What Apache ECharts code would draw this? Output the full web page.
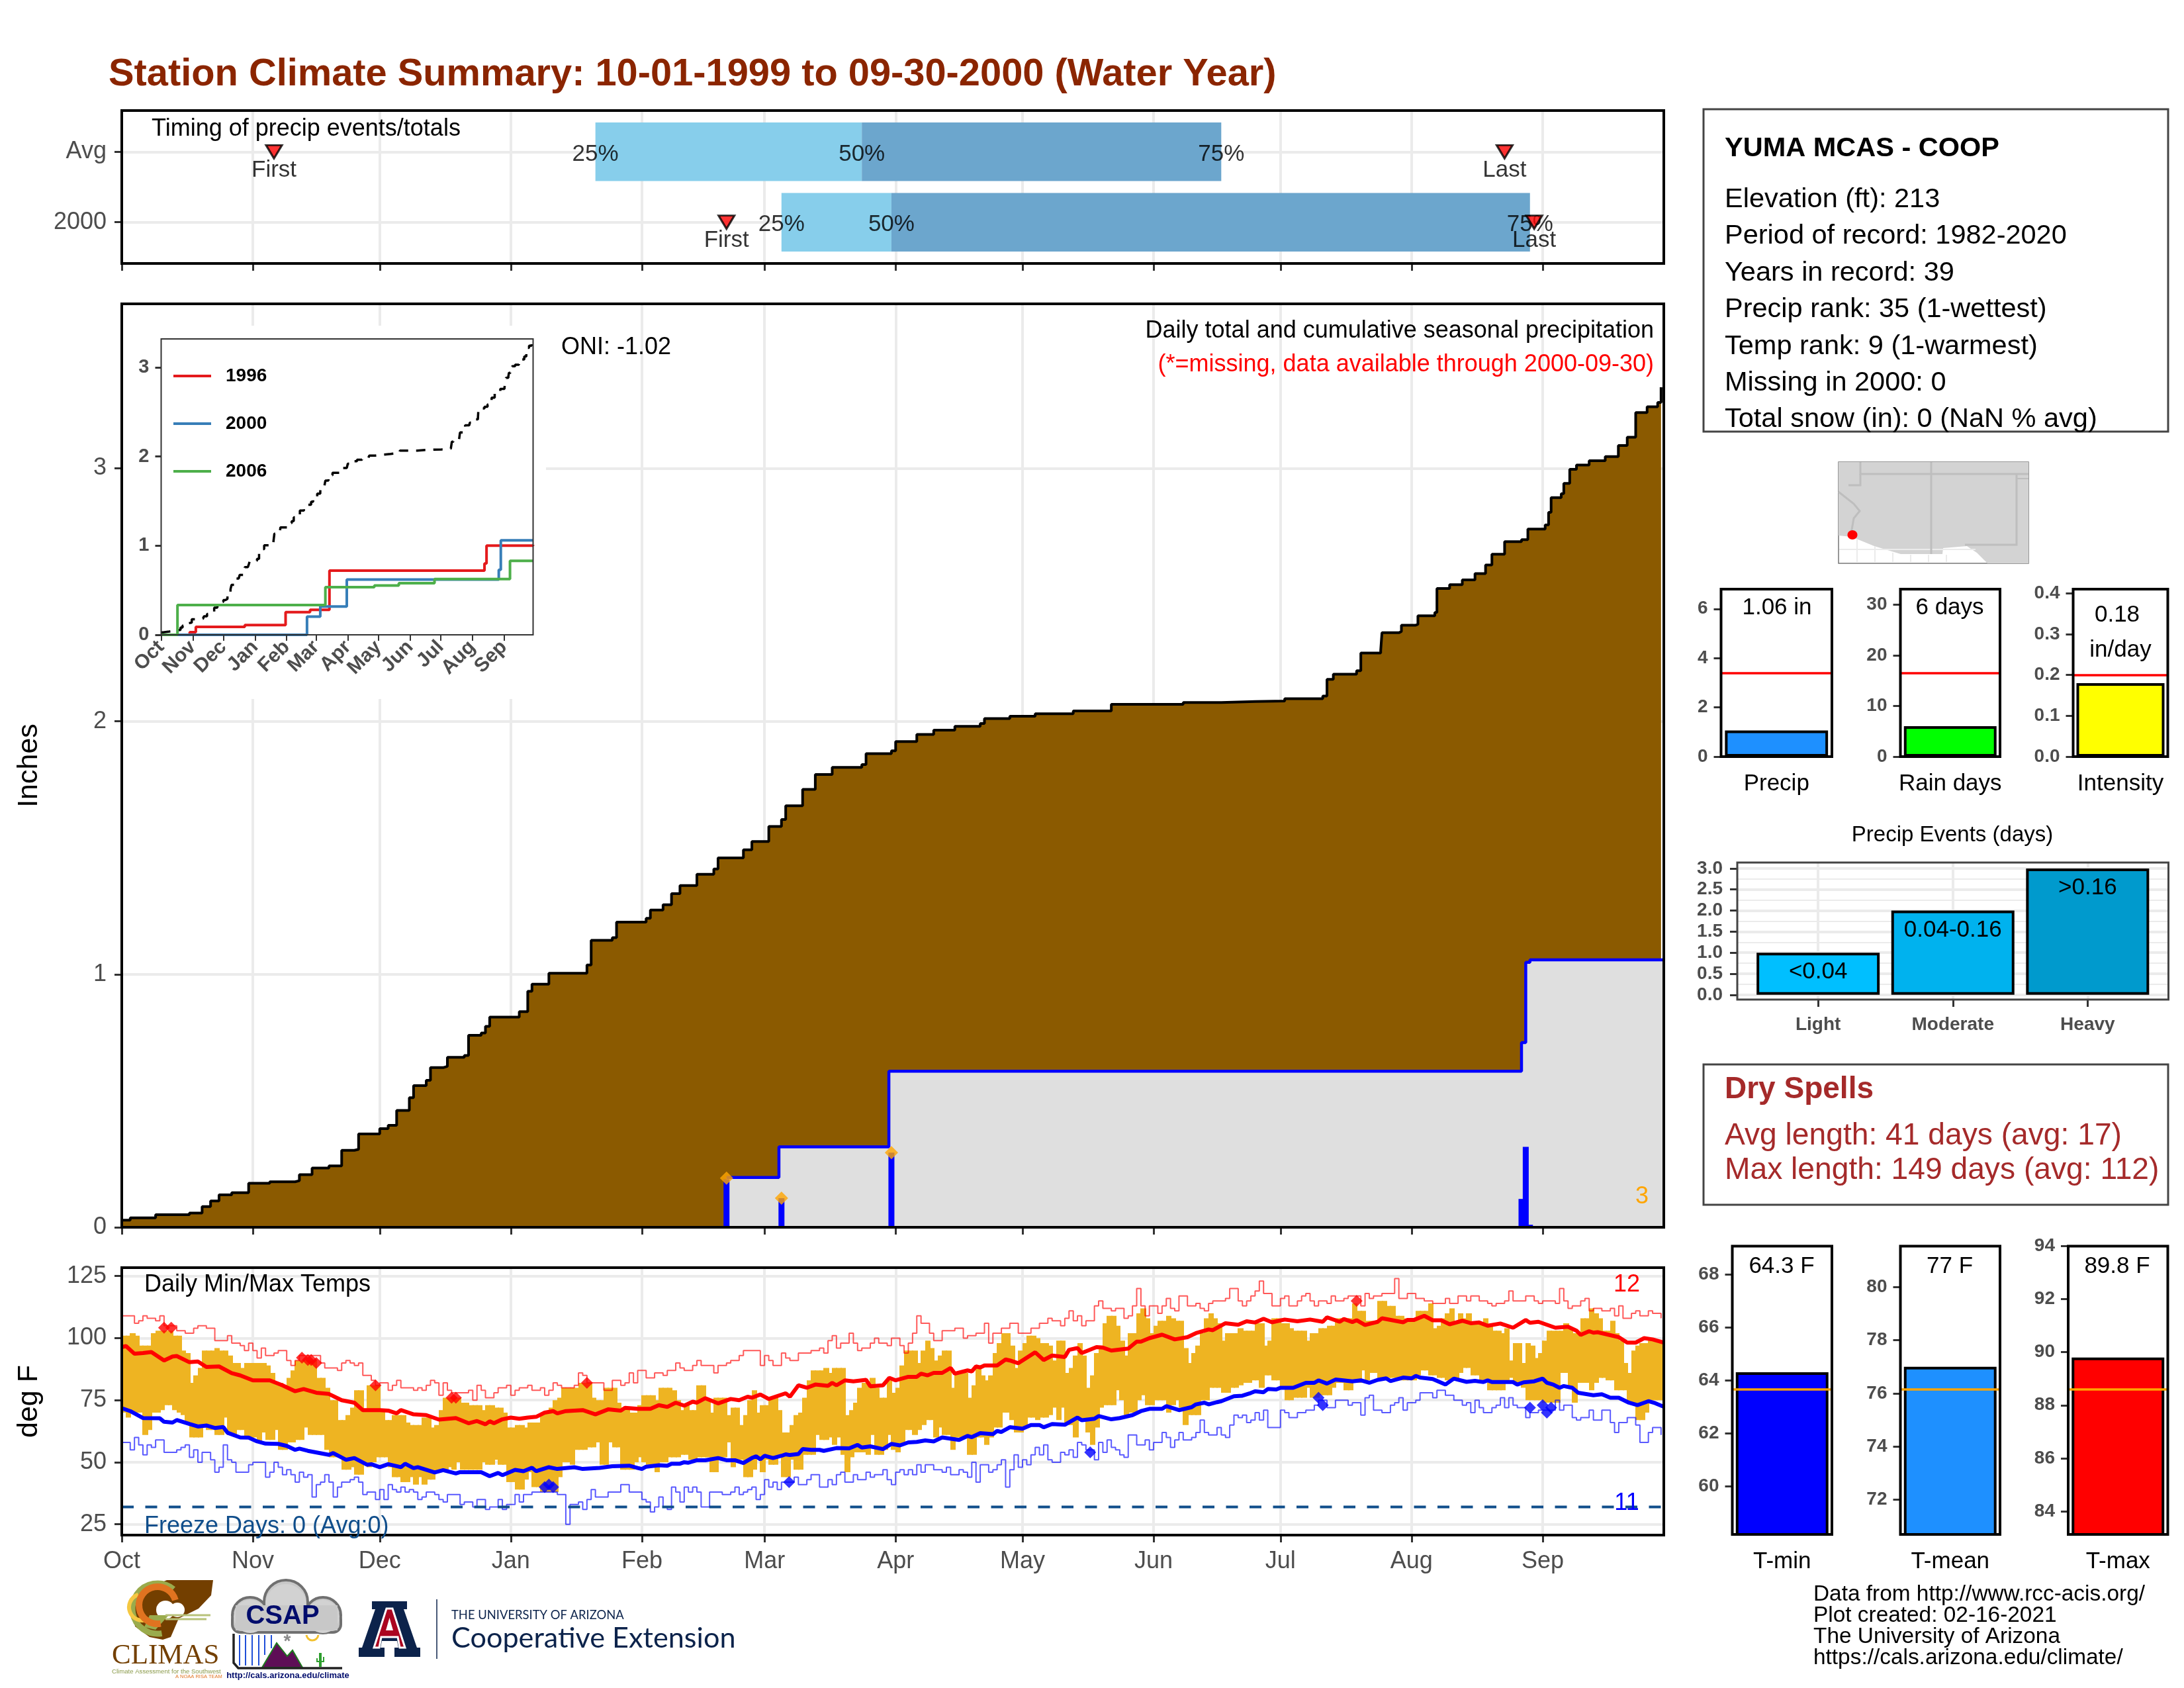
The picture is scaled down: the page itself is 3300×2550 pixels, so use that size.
<!DOCTYPE html>
<html lang="en">
<head>
<meta charset="UTF-8">
<title>Station Climate Summary</title>
<script src="https://cdn.jsdelivr.net/npm/echarts@6/dist/echarts.min.js"></script>
<style>html,body{margin:0;background:#fff}#main{width:3300px;height:2550px}</style>
</head>
<body>
<div id="main"></div>
<script>
// ---- data; day = days since Oct 1 ----
const monthDays = [0,31,61,92,123,152,183,213,244,274,305,336];
const monthNames = ['Oct','Nov','Dec','Jan','Feb','Mar','Apr','May','Jun','Jul','Aug','Sep'];

// timing panel (row 2 = Avg, row 1 = 2000)
const timingRows = [2,1];
const q25 = [112,156];
const q50 = [175,182];
const q75 = [260,333];
const firstDay = [36,143];
const lastDay = [327,334];

// average cumulative precip
const avgDays = [0,2,8,16,19,21,23,26,30,35,41,42,45,49,52,55,56,61,63,65,68,69,72,73,76,77,81,82,85,86,87,94,96,97,101,110,111,116,117,124,125,128,130,132,136,140,141,147,149,153,156,157,160,161,164,168,175,176,182,183,188,192,197,203,204,210,216,225,234,251,260,268,275,284,285,286.5,292,293,297.7,298,302,302.6,306,306.5,310.5,311,314,317,320,322.5,324,327,331,332.5,336.6,337.4,338,340.4,341,342.4,344,347,350.8,353.9,356,358,360.7,363.2,364];
const avgCum = [.028,.037,.05,.056,.082,.104,.128,.137,.174,.18,.184,.208,.234,.243,.304,.308,.369,.39,.403,.462,.512,.56,.581,.631,.636,.672,.679,.759,.768,.794,.831,.852,.933,.961,1.004,1.037,1.134,1.145,1.206,1.221,1.254,1.275,1.319,1.351,1.395,1.416,1.46,1.492,1.525,1.584,1.612,1.666,1.666,1.731,1.79,1.818,1.829,1.872,1.883,1.92,1.948,1.965,1.98,1.991,2.011,2.02,2.03,2.041,2.067,2.074,2.078,2.08,2.089,2.1,2.166,2.186,2.2,2.27,2.28,2.35,2.355,2.38,2.383,2.417,2.43,2.525,2.54,2.559,2.584,2.618,2.66,2.71,2.718,2.76,2.776,2.826,2.884,2.9,2.94,2.996,3.013,3.03,3.046,3.09,3.123,3.22,3.243,3.26,3.32];

// this year cumulative and daily precip
const yearDays = [143,155.4,181.4,331,332,333,364.6];
const yearCum = [.197,.318,.617,.73,1.047,1.057,1.057];
const dailyDays = [143,156,182,331,332,333];
const dailyPrecip = [.19,.115,.295,.112,.318,.01];
const extremeDays = [143,156,182];
const extremeVals = [.194,.115,.295];

// inset: analog years
const y1996Days = [0,28,34,82,122,146,165,317,319,364.6];
const y1996 = [0,.03,.09,.11,.255,.28,.72,.80,1.0,1.01];
const y2000Days = [0,143,156,182,331,333,364.6];
const y2000 = [0,.205,.317,.62,.73,1.06,1.06];
const y2006Days = [0,16,161,209,233,268,342,364.6];
const y2006 = [0,.335,.534,.553,.58,.625,.83,.83];

// daily temps
const dailyHi = [101,101,102,101,97,97,97,102,103,103,
103,103,101,101,95,94,82,85,88,95,
95,95,96,95,95,93,90,90,88,90,
90,90,90,90,89,86,82,82,81,84,
87,91,91,91,91,91,84,84,80,75,
75,67,67,69,72,79,79,71,81,81,
81,71,67,67,69,69,69,66,65,65,
65,68,68,64,65,71,76,76,76,76,
74,74,73,73,73,71,73,73,72,72,
70,64,64,65,65,64,66,66,66,70,
70,72,75,76,80,80,80,80,82,82,
82,76,75,75,80,80,80,74,72,72,
70,70,73,77,77,77,75,80,80,80,
79,75,71,73,71,71,81,81,75,70,
76,76,76,69,72,72,65,69,75,79,
70,73,73,76,76,71,62,62,65,69,
70,76,83,87,87,87,88,86,88,88,
88,69,71,74,80,82,82,84,80,76,
76,83,78,80,89,95,95,95,90,95,
99,96,91,93,95,95,80,86,86,86,
76,81,89,85,83,85,94,98,102,102,
97,88,95,98,101,101,100,98,98,97,
91,99,99,86,88,93,98,93,80,85,
94,97,106,109,109,105,99,93,102,102,
110,112,108,102,105,107,107,109,108,107,
107,96,90,94,97,102,108,110,108,106,
99,102,102,102,104,103,103,103,106,106,
97,99,108,108,106,106,104,103,103,103,
99,102,102,104,104,105,105,108,108,108,
108,114,111,111,107,107,107,115,115,113,
113,109,109,108,108,108,111,111,111,114,
104,105,108,110,112,107,110,108,110,106,
106,106,108,105,103,103,102,104,91,98,
98,90,98,97,92,94,99,103,103,103,
103,106,104,102,102,108,108,112,110,108,
103,103,107,102,99,90,86,95,97,98,
98,99,99,98,98];
const dailyLo = [70,68,70,70,70,61,63,70,70,71,
73,73,71,70,69,66,60,60,60,64,
63,63,61,61,68,61,61,63,63,60,
60,60,58,62,59,59,63,55,55,58,
58,59,59,64,61,61,61,61,55,52,
52,52,47,47,48,45,45,49,48,50,
52,52,52,48,44,44,42,42,44,41,
44,41,43,43,46,46,46,48,47,50,
47,47,47,47,47,50,49,49,51,49,
49,42,42,39,39,43,46,40,40,38,
38,38,38,44,50,50,49,55,55,55,
56,56,58,49,49,58,56,56,47,47,
47,50,52,50,49,49,46,50,50,52,
52,52,53,53,51,51,52,52,52,46,
46,52,52,58,48,51,51,44,44,47,
51,46,51,49,49,52,44,44,51,47,
47,53,53,53,61,59,59,60,57,60,
53,46,52,54,54,54,53,61,53,53,
55,61,55,54,57,63,63,61,63,65,
67,67,60,64,61,61,55,60,60,60,
53,53,60,60,57,60,64,64,70,70,
67,62,62,64,68,68,67,68,68,69,
72,67,72,65,65,60,67,67,62,57,
64,72,73,73,73,79,75,69,70,70,
75,77,73,73,75,75,75,70,73,75,
72,65,69,69,69,75,75,80,80,80,
78,78,80,80,81,82,82,83,83,80,
85,85,83,83,80,75,75,76,76,76,
80,76,76,77,77,77,80,82,82,79,
79,82,82,87,83,86,86,84,84,84,
84,84,83,83,83,83,85,87,87,85,
85,84,84,83,83,83,86,88,88,85,
85,83,83,79,79,79,79,82,84,82,
82,80,75,75,75,75,74,74,74,74,
86,86,80,74,82,82,82,79,82,84,
84,83,83,79,79,79,74,74,67,67,
70,75,75,75,75];

// mean max/min lines
const avgHiDays = [0,1,3,5,7,10,12,13,16,18,20,23,26,28,31,35,38,41,43,46,49,52,55,57,61,63,65,66,69,72,75,79,82,84,86,87,88,90,92,94,96,98,100,102,103,105,109,112,115,118,119,122,125,127,129,131,133,135,136,138,141,144,146,148,149,151,153,157,158,160,162,164,167,168,169,171,173,176,177,180,181.5,183,186,188,189,190.5,192,194,196,197,200,201,202,203,204,207,209,210,212,216,218,220,223,224,226,227,230.5,232,234,238,240,241,243,246,249,252,254,257,258,261,264,266,268,270,272,275,278,281,284,285,288,289,291,292,294,297,298,303,304,305.5,308,310,312,314,317,319,321,323,326,329,332,333,335,337,339,342,344,345,347,348,349,354,356,358,360,362,364.6];
const avgHi = [96.4,96.8,93.7,94,94.4,91,92.6,92.8,90.3,90.6,88.4,88.6,85.9,85,83,83,81,78.6,79.5,78,77.5,75,74,71,71,70.8,69.7,71,69.3,69,67.2,67.8,65.7,66.6,65.3,66.5,65.7,67.3,68,67.5,68,68.3,70,70.6,69.7,70.6,71,69.3,71.3,70.8,71.9,71.5,71.5,73,72.3,74,72.8,74.4,74,75.8,73.7,75.5,75,76.4,76,77.3,75.5,77.8,76.4,81,80,81.3,80.8,82,81,83,82.6,83.2,80.6,81,84,83,84.4,84.4,85.7,85,86,86,88,85.7,87,86.6,88.6,88.2,89,89,91.4,91,89.9,94.3,91.2,93,92.4,95.3,96,94,96.4,96.2,95,95.8,98.6,98.6,100,101.4,99.5,100.4,102,103.5,103.2,106,105.4,106.8,106.3,107.8,106.4,107.5,106.8,107.5,106.6,108.4,106.6,107.7,106.5,107.2,105.3,106.6,108,106.4,107.3,107.3,109,107.2,107.2,105.6,107,106,106.3,105,105.9,104.2,107.3,106.2,106.6,105.4,104.2,104.6,103,101.3,102.8,102.2,102.4,100.4,98.2,98.2,100,99.5,98.2];
const avgLoDays = [0,2,5,9,10,12,13,16,18,20,22,24,25,28,30,32,34,37,39,41,42,44,49,50,53,55,58,59,61,63,66,67,69,70,74,76,79,80,85,87,89,90,93,95,97,98,101,103,107,109,113,116,120,122,123,124,127,129,130,132,133,134,136,138,141,143,145,147,149,150,151,152,154,156,157,158,160,161,163,165,166,169,172,174,175,177,180,182,184,186,188,190,192,194,198,200,201,203,206,207,208,210,213,215,217,218,220,223,226,227,230,231,234,236,238,239,241,243,246,247,250,253,254,256,257,259,260,263,265,267,268,270,271,273,274,277,280,282,283,285,287,291,293,295,297,299,300,303,305,306,307,310,313,315,318,320,322,323,324,329,330,331.5,334,336,337,338.5,340,341,343,344.4,348,350,352,354,356.4,358.4,361,362.6,364.6];
const avgLo = [71.8,70.6,67.8,67.7,66.3,66,67,65.4,64.4,64.8,63.8,64.2,61.9,60,59.9,58.4,57.5,57.4,56.6,55,55.5,54.6,53,53.7,51,51.7,49,49.2,48,49.2,48,49.4,47.6,48,45.9,46.8,45.5,46,46,44.4,45.7,44.8,46.9,46.4,47.8,46.4,48,47.3,48,47.3,47.7,48.4,48.6,47.7,47.3,48.2,48.8,48.6,49.4,49.4,50,49.8,50.8,50.8,51.7,50.8,50.8,49.7,51.7,52.4,51.2,52.6,51.7,52.6,53.2,52.9,53.3,55.3,55,55,54.6,55.7,55.6,57,55.9,56.4,55.3,57.4,56.8,58,58.2,58.8,58.4,60,59,60.6,60.1,61.7,61.3,62.6,62.2,64.1,63.5,65,65,64.1,65.4,65.1,68,66.9,67.5,68.6,67.3,67.8,68.6,69,70.6,71.5,71.5,72.6,71,72.2,73.3,74,73.3,74.2,74.6,76.6,76.8,77.9,78.6,78.2,79.5,79.3,80,80,82,82,83,81.7,83.3,82.6,83,82,83.2,83.8,82.7,84.1,83.8,84.8,84.1,83.5,81.3,83.7,82.4,82.8,82.3,83,82.3,82.3,81.3,82.2,82.6,83.7,82,81.3,80,80.7,80,78,77,77.4,76,76,74,73,74.6,73.8,72.4];

// record high/low step traces, [day] and [deg F] pairs
const recHiDays = [0,3,4,5,6,8,9,10,13,15,17,18,20,22,25,26,28,29,30,31,32,33,34,36,37,39,40,41,42,47,48,51,52,53,54,55,56,57,59,60,61,63,64,65,66,68,69,70,71,72,73,74,75,76,77,78,81,82,83,84,85,86,88,89,91,92,93,94,96,97,99,100,101,102,103,104,107,108,109,110,114,116,118,119,120,121,122,124,126,128,129,131,132,133,135,136,137,140,141,143,144,146,147,151,152,153,154,156,157,158,160,163,165,166,167,168,169,170,172,173,174,175,177,178,179,181,182,184,185,186,187,188,189,191,192,194,197,199,200,202,204,205,206,208,210,212,215,217,219,220,222,223,224,225,226,227,228,230,231,232,234,235,237,238,239,240,241,242,243,245,246,247,248,249,250,252,254,255,256,257,258,261,262,264,265,266,267,268,269,270,272,274,275,276,278,279,280,281,282,283,285,286,287,289,290,293,294,295,296,298,301,302,304,306,308,310,313,314,316,318,319,321,323,324,325,327,328,329,332,334,335,336,339,340,341,342,343,345,346,347,348,350,352,353,354,355,357,358,359,361,362,364];
const recHi = [109,106,107,109,108,107,109,105,103,102,104,105,104,99,101,98,97,95,98,95,92,96,93,94,95,91,89,91,93,90,88,87,90,91,90,89,90,85,83,81,82,79,81,83,80,80,79,80,79,81,83,82,77,82,79,78,78,79,75,81,79,76,78,80,81,77,79,80,81,79,80,77,79,82,81,80,81,86,85,82,79,83,81,82,86,82,87,84,86,85,87,90,88,87,89,91,89,86,89,90,91,93,95,89,93,91,89,94,92,91,94,95,96,94,99,101,96,98,102,98,95,96,98,100,98,97,100,97,94,98,102,109,106,102,99,103,104,100,101,102,106,98,102,104,106,102,104,106,108,107,105,108,111,107,109,105,107,113,115,112,111,112,108,109,113,120,113,109,113,110,113,116,112,111,117,113,114,112,111,114,115,116,120,115,113,115,117,119,123,118,113,116,117,113,115,117,118,115,113,115,114,117,115,116,117,113,118,116,117,118,124,116,118,116,115,114,116,114,117,115,117,115,114,113,114,115,119,115,117,115,114,115,114,120,115,112,113,115,116,111,112,111,112,109,113,108,110,111,109,111,110,108];
const recLoDays = [0,2,3,4,5,6,7,8,10,13,14,15,16,17,18,19,21,22,23,24,25,26,27,30,31,34,35,36,37,38,39,40,41,42,43,44,45,46,47,48,49,50,51,52,54,55,56,57,58,60,61,62,63,64,65,66,67,68,69,70,71,72,74,75,76,77,80,81,83,84,86,87,89,90,91,93,94,95,97,103,105,106,108,109,110,111,112,115,118,120,122,123,124,125,126,127,128,129,130,131,132,133,134,135,136,137,139,142,144,145,146,147,148,149,150,151,152,153,154,155,156,159,160,162,163,165,167,168,169,170,171,173,174,176,177,178,180,181,182,183,184,185,186,187,188,189,190,192,194,195,196,198,199,200,201,202,203,205,206,207,208,209,210,211,212,213,214,215,216,217,218,219,220,222,223,224,225,226,227,228,230,231,232,233,234,235,236,237,238,240,242,243,244,246,247,248,249,250,251,253,254,255,256,257,259,260,261,262,263,264,265,266,267,268,269,270,271,274,275,276,278,280,282,283,285,287,288,290,291,292,293,294,295,296,298,300,301,302,303,304,306,307,310,311,313,315,317,318,319,320,321,322,324,325,326,327,328,329,330,332,333,335,337,339,340,341,343,344,345,347,348,350,352,353,354,356,358,359,361,362,364];
const recLo = [58,55,60,57,53,57,56,59,54,55,56,57,52,55,50,54,51,46,48,57,51,50,46,49,50,44,46,50,48,45,47,45,42,46,44,45,36,41,42,45,42,36,40,42,43,44,42,37,38,35,39,35,41,39,38,40,38,39,38,35,36,38,37,35,34,37,33,34,32,35,31,32,35,31,33,37,34,37,38,37,25,33,34,31,35,39,36,38,41,38,38,35,34,30,32,36,32,31,40,38,34,40,38,40,38,32,38,37,38,40,37,38,39,40,35,37,43,40,42,39,42,44,41,43,45,40,43,41,45,46,42,45,43,46,44,45,47,43,41,46,47,45,47,45,49,46,49,47,46,48,45,47,46,44,50,42,49,46,47,49,51,40,47,53,48,51,49,53,56,53,57,51,50,54,53,55,52,58,57,55,51,58,54,59,56,55,53,52,61,57,59,55,58,62,60,56,59,62,59,60,62,67,62,61,64,61,60,65,69,68,69,66,67,70,67,71,64,71,70,68,70,71,73,75,72,75,75,73,74,74,69,76,77,71,70,73,74,76,71,74,75,78,76,79,77,75,73,74,70,75,72,70,72,73,76,72,76,73,72,68,70,71,71,75,71,73,68,67,68,71,67,71,66,62,66,68,65,58,62,64,61,55,61,59,62];
const freezeTemp = 32;
const recordHiPts = [[10,104.2],[11.7,104.2],[42.6,92.1],[44,91.2],[44.8,91.2],[46,90],[60,81],[78,76],[79,76],[110,82],[292,115]];
const recordLoPts = [[100,40],[101,41],[102,40],[157.8,42],[229,54],[283,76],[284,73],[333,72],[336,73],[337,70],[338,72]];

// small bar panels: value, average
const precipVal = 1.06, precipAvg = 3.4;
const rainVal = 6, rainAvg = 16.5;
const intensityVal = .18, intensityAvg = .205;
const eventLabels = ['<0.04','0.04-0.16','>0.16'];
const eventCats = ['Light','Moderate','Heavy'];
const eventVals = [1,2,3];
const eventColors = ['#00BFFF','#00B2EE','#009ACD'];
const tminVal = 64.3, tminAvg = 63.65;
const tmeanVal = 77, tmeanAvg = 76.14;
const tmaxVal = 89.8, tmaxAvg = 88.6;

// ---- helpers ----
const FONT = '"Liberation Sans"';
const XMAX = 364.65;
const zip = (a, b) => a.map((v, i) => [v, b[i]]);
const TICKCOL = '#333', LABCOL = '#4D4D4D', GRIDCOL = '#EBEBEB';

function gridBox(l, t, r, b, bw, bc) {
    return {left: l, top: t, width: r - l, height: b - t, show: true, z: 20, outerBoundsMode: 'none',
        backgroundColor: 'transparent', borderColor: bc || '#000', borderWidth: bw || 4};
}
function timeAxis(g, showLabels) {
    return {type: 'value', gridIndex: g, min: 0, max: XMAX, position: 'bottom',
        axisLine: {show: false, onZero: false},
        axisTick: {show: true, length: 11, customValues: monthDays, lineStyle: {color: TICKCOL, width: 3}},
        axisLabel: {show: showLabels, customValues: monthDays, fontSize: 36, color: LABCOL, margin: 22,
            hideOverlap: false, formatter: v => monthNames[monthDays.indexOf(v)]},
        splitLine: {show: true, lineStyle: {color: GRIDCOL, width: 4}}};
}
function yAxis(g, min, max, ticks, o) {
    o = o || {};
    return Object.assign({type: 'value', gridIndex: g, min, max, position: 'left',
        axisLine: {show: false, onZero: false},
        axisTick: {show: true, length: o.tick || 11, customValues: ticks, lineStyle: {color: TICKCOL, width: 3}},
        axisLabel: {customValues: ticks, fontSize: o.size || 36, color: LABCOL, fontWeight: o.weight || 'normal',
            margin: o.margin || 23, padding: [10, 0, 0, 0], formatter: o.fmt || (v => String(v))},
        splitLine: {show: !!o.grid, lineStyle: {color: GRIDCOL, width: 4}}}, o.extra || {});
}
// single-bar panel with an average line
function barPanel(g, name, val, avg, color, lineColor) {
    return {type: 'bar', xAxisIndex: g, yAxisIndex: g, data: [{name, value: val}], barWidth: '93%', z: 2,
        itemStyle: {color, borderColor: '#000', borderWidth: 4},
        markLine: {silent: true, symbol: 'none', label: {show: false}, animation: false,
            lineStyle: {color: lineColor, width: 3.5, type: 'solid'}, data: [{yAxis: avg}]}};
}
function barX(g, name) {
    return {type: 'category', gridIndex: g, data: [name], axisLine: {show: false, onZero: false}, axisTick: {show: false},
        axisLabel: {fontSize: 35, color: '#000', margin: 24}, splitLine: {show: false}};
}
function T(s, x, y, o) {
    return {type: 'text', z: 30, style: Object.assign({text: s, x, y: y + 3, fontSize: 36, fontFamily: FONT, fill: '#000',
        align: 'left', verticalAlign: 'middle'}, o || {})};
}
function box(x0, y0, x1, y1) {
    return {type: 'rect', z: 25, shape: {x: x0, y: y0, width: x1 - x0, height: y1 - y0},
        style: {fill: 'none', stroke: '#444', lineWidth: 3}};
}
function poly(points, fill, o) {
    return {type: 'polygon', z: 30, shape: {points}, style: Object.assign({fill}, o || {})};
}
function pline(points, stroke, lineWidth) {
    return {type: 'polyline', z: 31, shape: {points}, style: {stroke, lineWidth, fill: 'none'}};
}
function circ(cx, cy, r, fill, o) {
    return {type: 'circle', z: 30, shape: {cx, cy, r}, style: Object.assign({fill}, o || {})};
}

// timing bars
function timingBars(from, to, color) {
    return {type: 'custom', xAxisIndex: 0, yAxisIndex: 0, z: 2,
        data: timingRows.map((r, i) => [from[i], to[i], r]),
        encode: {x: [0, 1], y: 2},
        renderItem: (params, api) => {
            const a = api.coord([api.value(0), api.value(2)]);
            const b = api.coord([api.value(1), api.value(2)]);
            const h = api.size([0, .83])[1];
            return {type: 'rect', shape: {x: a[0], y: a[1] - h / 2, width: b[0] - a[0], height: h}, style: {fill: color}};
        }};
}
function timingText(days, text, dy) {
    return {type: 'scatter', xAxisIndex: 0, yAxisIndex: 0, z: 5, symbolSize: 1,
        itemStyle: {color: 'transparent'}, data: timingRows.map((r, i) => [days[i], r]),
        label: {show: true, position: 'inside', offset: [0, dy], formatter: text, fontSize: 35, color: '#000'}};
}
function timingMark(days) {
    return {type: 'scatter', xAxisIndex: 0, yAxisIndex: 0, z: 6, symbol: 'triangle', symbolRotate: 180, symbolSize: [24, 20],
        itemStyle: {color: '#f00', borderColor: '#000', borderWidth: 3}, data: timingRows.map((r, i) => [days[i], r])};
}

// ---- graphics: boxes, text, map, logos ----
const graphics = [
    {type: 'rect', z: 1, shape: {x: 186, y: 492, width: 639, height: 564}, style: {fill: '#fff'}},
    T('Station Climate Summary: 10-01-1999 to 09-30-2000 (Water Year)', 164, 110, {fontSize: 57.8, fontWeight: 'bold', fill: '#8B2500'}),
    T('Timing of precip events/totals', 229, 192),
    T('ONI: -1.02', 848, 522),
    T('Daily total and cumulative seasonal precipitation', 2499, 497, {align: 'right'}),
    T('(*=missing, data available through 2000-09-30)', 2499, 548, {align: 'right', fill: '#f00'}),
    T('3', 2481, 1805, {align: 'center', fill: '#FFA500'}),
    T('Daily Min/Max Temps', 218, 1938),
    T('12', 2458, 1938, {align: 'center', fill: '#f00'}),
    T('11', 2458, 2268, {align: 'center', fill: '#00f'}),
    T('Freeze Days: 0 (Avg:0)', 218, 2303, {fill: '#104E8B'}),
    // station box
    box(2574, 165, 3276, 652),
    T('YUMA MCAS - COOP', 2606, 222, {fontSize: 41.5, fontWeight: 'bold'}),
    T('Elevation (ft): 213', 2606, 299, {fontSize: 41.5}),
    T('Period of record: 1982-2020', 2606, 354, {fontSize: 41.5}),
    T('Years in record: 39', 2606, 410, {fontSize: 41.5}),
    T('Precip rank: 35 (1-wettest)', 2606, 465, {fontSize: 41.5}),
    T('Temp rank: 9 (1-warmest)', 2606, 521, {fontSize: 41.5}),
    T('Missing in 2000: 0', 2606, 576, {fontSize: 41.5}),
    T('Total snow (in): 0 (NaN % avg)', 2606, 631, {fontSize: 41.5}),
    // locator map
    {type: 'rect', z: 29, shape: {x: 2778, y: 698, width: 287, height: 153}, style: {fill: '#fff', stroke: '#777', lineWidth: 1.5}},
    pline([[2806, 815], [2806, 849]], '#EBEBEB', 2), pline([[2833, 825], [2833, 849]], '#EBEBEB', 2),
    pline([[2860, 835], [2860, 849]], '#EBEBEB', 2), pline([[2887, 838], [2887, 849]], '#EBEBEB', 2),
    pline([[2914, 838], [2914, 849]], '#EBEBEB', 2), pline([[2941, 838], [2941, 849]], '#EBEBEB', 2),
    pline([[2779, 830], [2985, 830]], '#EBEBEB', 2),
    poly([[2778, 698], [3065, 698], [3065, 851], [3003, 851], [2987, 835], [2972, 825], [2936, 828], [2935, 837], [2872, 837], [2832, 825], [2798, 811], [2778, 809]], '#D3D3D3'),
    pline([[2778, 743], [2801, 761], [2810, 772], [2801, 783], [2798, 800], [2796, 811]], '#BEBEBE', 3),
    pline([[2811, 698], [2811, 716], [3065, 716]], '#BEBEBE', 3),
    pline([[2811, 716], [2811, 733], [2793, 733]], '#BEBEBE', 3),
    pline([[2918, 698], [2918, 837]], '#BEBEBE', 3),
    pline([[3047, 716], [3047, 823], [2969, 823]], '#BEBEBE', 3),
    pline([[3047, 723], [3065, 723]], '#BEBEBE', 2),
    {type: 'ellipse', z: 32, shape: {cx: 2799, cy: 808, rx: 7.5, ry: 7}, style: {fill: '#f00'}},
    // small panel values
    T('1.06 in', 2685, 915, {align: 'center', fontSize: 35}),
    T('6 days', 2946, 915, {align: 'center', fontSize: 35}),
    T('0.18', 3199, 926, {align: 'center', fontSize: 35}),
    T('in/day', 3204, 979, {align: 'center', fontSize: 35}),
    T('Precip Events (days)', 2950, 1259, {align: 'center', fontSize: 33}),
    // dry spells box
    box(2574, 1608, 3276, 1820),
    T('Dry Spells', 2606, 1643, {fontSize: 46, fontWeight: 'bold', fill: '#A52A2A'}),
    T('Avg length: 41 days (avg: 17)', 2606, 1713, {fontSize: 46.2, fill: '#A52A2A'}),
    T('Max length: 149 days (avg: 112)', 2606, 1765, {fontSize: 46.2, fill: '#A52A2A'}),
    T('64.3 F', 2692, 1910, {align: 'center', fontSize: 35}),
    T('77 F', 2946, 1910, {align: 'center', fontSize: 35}),
    T('89.8 F', 3199, 1910, {align: 'center', fontSize: 35}),
    // footer
    T('Data from http://www.rcc-acis.org/', 2740, 2406, {fontSize: 33.4}),
    T('Plot created: 02-16-2021', 2740, 2438, {fontSize: 33.4}),
    T('The University of Arizona', 2740, 2470, {fontSize: 33.4}),
    T('https://cals.arizona.edu/climate/', 2740, 2502, {fontSize: 33.4}),

    // CLIMAS logo
    poly([[252, 2387], [322, 2387], [319, 2410], [300, 2430], [270, 2445], [258, 2473], [246, 2477], [226, 2473], [204, 2457], [201, 2430], [214, 2403]], '#733F00'),
    {type: 'arc', z: 31, shape: {cx: 238, cy: 2430, r: 38, startAngle: 1.4, endAngle: 5.4}, style: {stroke: '#9AAB4C', lineWidth: 9, fill: 'none'}},
    {type: 'arc', z: 32, shape: {cx: 238, cy: 2425, r: 28, startAngle: 1.4, endAngle: 6.0}, style: {stroke: '#E07320', lineWidth: 10, fill: 'none'}},
    {type: 'arc', z: 31, shape: {cx: 215, cy: 2428, r: 20, startAngle: 1.2, endAngle: 4.4}, style: {stroke: '#F5C842', lineWidth: 6, fill: 'none'}},
    circ(250, 2432, 14, '#fff'), circ(268, 2432, 11, '#fff'),
    poly([[226, 2440], [255, 2440], [235, 2462], [218, 2458]], '#9AAB4C'),
    pline([[250, 2440], [318, 2440]], '#B8C27A', 3), pline([[250, 2446], [312, 2446]], '#B8C27A', 3),
    T('CLIMAS', 169, 2499, {fontSize: 43, fontFamily: '"Liberation Serif"', fill: '#733F00'}),
    T('Climate Assessment for the Southwest', 169, 2522, {fontSize: 9.6, fill: '#8A9A4A'}),
    T('A NOAA RISA TEAM', 265, 2530, {fontSize: 7.5, fill: '#E07320'}),

    // CSAP logo
    circ(432, 2420, 33, '#C8C8C8', {stroke: '#707070', lineWidth: 4}),
    circ(378, 2440, 27, '#C8C8C8', {stroke: '#707070', lineWidth: 4}),
    circ(488, 2440, 27, '#C8C8C8', {stroke: '#707070', lineWidth: 4}),
    {type: 'rect', z: 30, shape: {x: 351, y: 2435, width: 164, height: 31, r: 12}, style: {fill: '#C8C8C8', stroke: '#707070', lineWidth: 4}},
    circ(432, 2424, 31, '#D2D2D2'), circ(378, 2442, 25, '#D2D2D2'), circ(488, 2442, 25, '#D2D2D2'),
    {type: 'rect', z: 30, shape: {x: 356, y: 2425, width: 154, height: 38}, style: {fill: '#C8C8C8'}},
    T('CSAP', 427, 2439, {align: 'center', fontSize: 40, fontWeight: 'bold', fill: '#000C6C'}),
    pline([[362, 2470], [362, 2516]], '#1F4FD8', 2), pline([[371, 2470], [371, 2516]], '#1F4FD8', 2),
    pline([[381, 2470], [381, 2516]], '#1F4FD8', 2), pline([[391, 2470], [391, 2516]], '#1F4FD8', 2),
    pline([[400, 2470], [400, 2500]], '#1F4FD8', 2), pline([[410, 2470], [410, 2490]], '#1F4FD8', 2),
    pline([[353, 2468], [353, 2512], [360, 2520], [517, 2520]], '#222', 3.5),
    poly([[396, 2519], [418, 2482], [434, 2502], [442, 2493], [457, 2519]], '#5E0E56', {stroke: '#1E7A1E', lineWidth: 2}),
    T('*', 434, 2477, {align: 'center', fontSize: 28, fill: '#888', fontWeight: 'bold'}),
    {type: 'arc', z: 31, shape: {cx: 472, cy: 2469, r: 9, startAngle: 0.1, endAngle: 3.05}, style: {stroke: '#F2C12E', lineWidth: 3, fill: 'none'}},
    pline([[484, 2497], [484, 2518]], '#2E9E2E', 4), pline([[479, 2505], [479, 2510], [489, 2510], [489, 2503]], '#2E9E2E', 2),
    T('http://cals.arizona.edu/climate', 435, 2528, {align: 'center', fontSize: 13, fontWeight: 'bold', fill: '#000C6C'}),

    // University of Arizona logo
    poly([[562, 2419], [615, 2419], [615, 2431], [610, 2431], [630, 2489], [635, 2489], [635, 2503], [596, 2503], [596, 2489], [602, 2489], [600, 2479], [577, 2479], [575, 2489], [581, 2489], [581, 2503], [542, 2503], [542, 2489], [547, 2489], [567, 2431], [562, 2431]], '#0C234B'),
    poly([[584, 2430], [593, 2430], [612, 2489], [604, 2489], [601, 2473], [576, 2473], [573, 2489], [565, 2489]], '#AB0520', {stroke: '#fff', lineWidth: 3}),
    poly([[588.5, 2444], [594, 2463], [583, 2463]], '#fff'),
    pline([[660, 2416], [660, 2506]], '#0C234B', 1.5),
    T('THE UNIVERSITY OF ARIZONA', 682, 2437, {fontSize: 18.4, fontFamily: 'Lato', fill: '#0C234B'}),
    T('Cooperative Extension', 682, 2472, {fontSize: 43.2, fontFamily: 'Lato', fill: '#0C234B'})
];

// ---- chart ----
const option = {
    animation: false,
    backgroundColor: '#fff',
    textStyle: {fontFamily: FONT},
    graphic: {elements: graphics},
    legend: {data: ['1996', '2000', '2006'], orient: 'vertical', left: 257, top: 549, icon: 'rect', itemWidth: 57, itemHeight: 4, itemGap: 44,
        selectedMode: false, z: 25,
        textStyle: {fontSize: 28, fontWeight: 'bold', color: '#000', padding: [0, 0, 0, 17]}},
    grid: [
        gridBox(184, 167, 2514, 398),
        gridBox(184, 459, 2514, 1854),
        gridBox(243.5, 512, 805.5, 959, 2, '#333'),
        gridBox(184, 1915, 2514, 2319),
        gridBox(2600.5, 890, 2768, 1143),
        gridBox(2871.5, 890, 3022, 1143),
        gridBox(3132.5, 890, 3275.5, 1143),
        gridBox(2625, 1303, 3276.5, 1510, 3, '#444'),
        gridBox(2617.5, 1882.5, 2768, 2318),
        gridBox(2871.5, 1882.5, 3022, 2318),
        gridBox(3125, 1882.5, 3275.5, 2318)
    ],
    xAxis: [
        timeAxis(0, false),
        timeAxis(1, false),
        {type: 'value', gridIndex: 2, z: 10, min: 0, max: XMAX, position: 'bottom', axisLine: {show: false, onZero: false},
            axisTick: {length: 9, customValues: monthDays, lineStyle: {color: TICKCOL, width: 2}},
            axisLabel: {customValues: monthDays, rotate: 45, fontSize: 30, fontWeight: 'bold', color: LABCOL, margin: 14,
                hideOverlap: false, formatter: v => monthNames[monthDays.indexOf(v)]},
            splitLine: {show: false}},
        timeAxis(3, true),
        barX(4, 'Precip'), barX(5, 'Rain days'), barX(6, 'Intensity'),
        {type: 'value', gridIndex: 7, min: .4, max: 3.6, position: 'bottom', axisLine: {show: false, onZero: false},
            axisTick: {length: 11, customValues: [1, 2, 3], lineStyle: {color: TICKCOL, width: 3}},
            axisLabel: {customValues: [1, 2, 3], fontSize: 28, fontWeight: 'bold', color: LABCOL, margin: 24,
                formatter: v => eventCats[v - 1]},
            splitLine: {show: true, lineStyle: {color: GRIDCOL, width: 4}}},
        barX(8, 'T-min'), barX(9, 'T-mean'), barX(10, 'T-max')
    ],
    yAxis: [
        yAxis(0, .415, 2.585, [1, 2], {grid: true, fmt: v => (v === 2 ? 'Avg' : '2000')}),
        yAxis(1, 0, 3.65, [0, 1, 2, 3], {grid: true, extra: {name: 'Inches', nameLocation: 'middle', nameGap: 118,
            nameTextStyle: {fontSize: 43, color: '#000'}}}),
        yAxis(2, 0, 3.32, [0, 1, 2, 3], {size: 29, weight: 'bold', tick: 9, margin: 18, extra: {z: 10}}),
        yAxis(3, 20.65, 128.4, [25, 50, 75, 100, 125], {grid: true, extra: {name: 'deg F', nameLocation: 'middle', nameGap: 118,
            nameTextStyle: {fontSize: 43, color: '#000'}}}),
        yAxis(4, 0, 6.8, [0, 2, 4, 6], {size: 28, weight: 'bold', margin: 20}),
        yAxis(5, 0, 33.05, [0, 10, 20, 30], {size: 28, weight: 'bold', margin: 20}),
        yAxis(6, 0, .41, [0, .1, .2, .3, .4], {size: 28, weight: 'bold', margin: 20, fmt: v => v.toFixed(1)}),
        yAxis(7, -.113, 3.14, [0, .5, 1, 1.5, 2, 2.5, 3], {size: 28, weight: 'bold', margin: 22, grid: true, fmt: v => v.toFixed(1),
            extra: {minorTick: {show: false, splitNumber: 2}, minorSplitLine: {show: true, lineStyle: {color: GRIDCOL, width: 2}}}}),
        yAxis(8, 58.18, 69.06, [60, 62, 64, 66, 68], {size: 28, weight: 'bold', margin: 20}),
        yAxis(9, 70.68, 81.55, [72, 74, 76, 78, 80], {size: 28, weight: 'bold', margin: 20}),
        yAxis(10, 83.125, 94, [84, 86, 88, 90, 92, 94], {size: 28, weight: 'bold', margin: 20})
    ],
    series: [
        // timing
        timingBars(q25, q50, '#87CEEB'),
        timingBars(q50, q75, '#6CA6CD'),
        timingText(q25, '25%', 4), timingText(q50, '50%', 4), timingText(q75, '75%', 4),
        timingMark(firstDay), timingMark(lastDay),
        timingText(firstDay, 'First', 28), timingText(lastDay, 'Last', 28),
        // main precip
        {type: 'line', xAxisIndex: 1, yAxisIndex: 1, step: 'end', showSymbol: false, z: 3, data: zip(avgDays, avgCum),
            lineStyle: {color: '#000', width: 4}, areaStyle: {color: '#8B5A00', opacity: 1}},
        {type: 'line', xAxisIndex: 1, yAxisIndex: 1, step: 'end', showSymbol: false, z: 4, data: zip(yearDays, yearCum),
            lineStyle: {color: '#00f', width: 4.5}, areaStyle: {color: '#DFDFDF', opacity: 1}},
        {type: 'bar', xAxisIndex: 1, yAxisIndex: 1, z: 5, barWidth: 9, barGap: 0, data: zip(dailyDays, dailyPrecip), itemStyle: {color: '#00f'}},
        {type: 'scatter', xAxisIndex: 1, yAxisIndex: 1, z: 6, symbol: 'diamond', symbolSize: [20, 20], data: zip(extremeDays, extremeVals), itemStyle: {color: '#FFA500'}},
        // inset
        {type: 'line', xAxisIndex: 2, yAxisIndex: 2, step: 'end', symbol: 'none', z: 6, data: zip(avgDays, avgCum).slice(0, -1),
            lineStyle: {color: '#000', width: 3.5, type: [14, 12]}},
        {type: 'line', name: '1996', xAxisIndex: 2, yAxisIndex: 2, step: 'end', symbol: 'none', z: 7, data: zip(y1996Days, y1996),
            itemStyle: {color: '#E41A1C'}, lineStyle: {color: '#E41A1C', width: 4}},
        {type: 'line', name: '2000', xAxisIndex: 2, yAxisIndex: 2, step: 'end', symbol: 'none', z: 8, data: zip(y2000Days, y2000),
            itemStyle: {color: '#377EB8'}, lineStyle: {color: '#377EB8', width: 4}},
        {type: 'line', name: '2006', xAxisIndex: 2, yAxisIndex: 2, step: 'end', symbol: 'none', z: 9, data: zip(y2006Days, y2006),
            itemStyle: {color: '#4DAF4A'}, lineStyle: {color: '#4DAF4A', width: 4}},
        // temps
        {type: 'custom', xAxisIndex: 3, yAxisIndex: 3, z: 2, clip: true,
            data: dailyHi.map((h, i) => [i, dailyLo[i], h]), encode: {x: 0, y: [1, 2]},
            renderItem: (params, api) => {
                const a = api.coord([api.value(0), api.value(2)]);
                const b = api.coord([api.value(0) + 1, api.value(1)]);
                const x0 = Math.floor(a[0]);
                return {type: 'rect', shape: {x: x0, y: a[1], width: Math.ceil(b[0]) - x0 + 1, height: b[1] - a[1]}, style: {fill: '#EEB422'}};
            }},
        {type: 'line', xAxisIndex: 3, yAxisIndex: 3, step: 'end', showSymbol: false, z: 3, data: zip(recHiDays, recHi),
            lineStyle: {color: '#f00', width: 2, opacity: .65}},
        {type: 'line', xAxisIndex: 3, yAxisIndex: 3, step: 'end', showSymbol: false, z: 3, data: zip(recLoDays, recLo),
            lineStyle: {color: '#00f', width: 2, opacity: .65}},
        {type: 'line', xAxisIndex: 3, yAxisIndex: 3, showSymbol: false, z: 4, data: [[0, freezeTemp], [XMAX, freezeTemp]],
            lineStyle: {color: '#104E8B', width: 4, type: [18, 17.5]}},
        {type: 'line', xAxisIndex: 3, yAxisIndex: 3, showSymbol: false, z: 5, data: zip(avgHiDays, avgHi),
            lineStyle: {color: '#f00', width: 6}},
        {type: 'line', xAxisIndex: 3, yAxisIndex: 3, showSymbol: false, z: 5, data: zip(avgLoDays, avgLo),
            lineStyle: {color: '#00f', width: 6}},
        {type: 'scatter', xAxisIndex: 3, yAxisIndex: 3, z: 6, symbol: 'diamond', symbolSize: [18, 18], data: recordHiPts, itemStyle: {color: '#f00'}},
        {type: 'scatter', xAxisIndex: 3, yAxisIndex: 3, z: 6, symbol: 'diamond', symbolSize: [18, 18], data: recordLoPts, itemStyle: {color: '#00f'}},
        // side bars
        barPanel(4, 'Precip', precipVal, precipAvg, '#1E90FF', '#f00'),
        barPanel(5, 'Rain days', rainVal, rainAvg, '#00FF00', '#f00'),
        barPanel(6, 'Intensity', intensityVal, intensityAvg, '#FFFF00', '#f00'),
        {type: 'bar', xAxisIndex: 7, yAxisIndex: 7, z: 2, barWidth: 186,
            data: eventVals.map((v, i) => ({value: [i + 1, v], itemStyle: {color: eventColors[i]}})),
            itemStyle: {borderColor: '#000', borderWidth: 4},
            label: {show: true, position: 'insideTop', distance: 12, fontSize: 35, color: '#000',
                formatter: p => eventLabels[p.dataIndex]}},
        barPanel(8, 'T-min', tminVal, tminAvg, '#0000FF', '#FFA500'),
        barPanel(9, 'T-mean', tmeanVal, tmeanAvg, '#1E90FF', '#FFA500'),
        barPanel(10, 'T-max', tmaxVal, tmaxAvg, '#FF0000', '#FFA500')
    ]
};
echarts.init(document.getElementById('main')).setOption(option);
</script>
</body>
</html>
